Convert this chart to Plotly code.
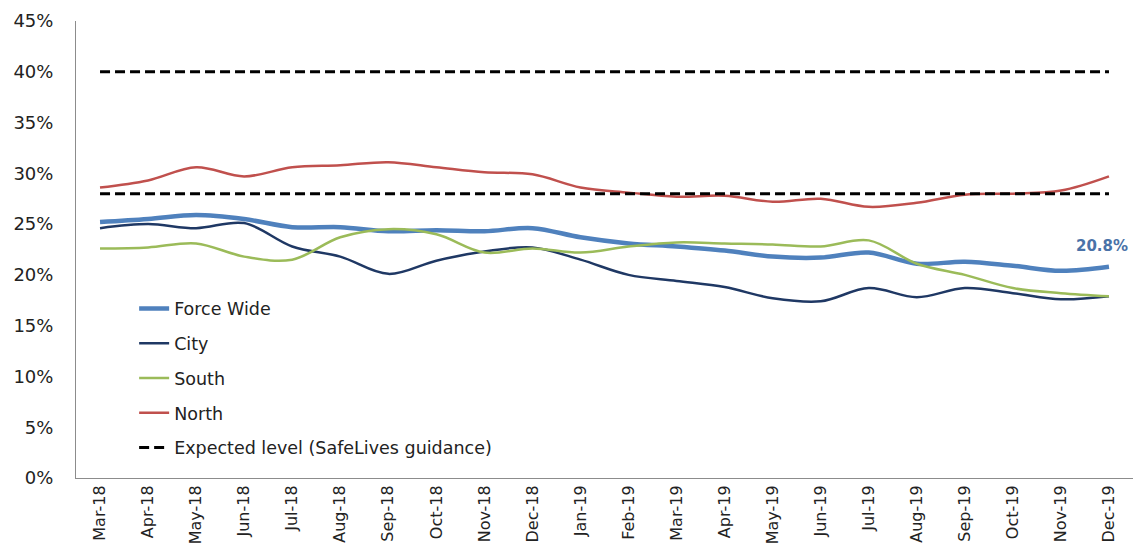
import plotly.graph_objects as go

months = ["Mar-18", "Apr-18", "May-18", "Jun-18", "Jul-18", "Aug-18", "Sep-18", "Oct-18",
          "Nov-18", "Dec-18", "Jan-19", "Feb-19", "Mar-19", "Apr-19", "May-19", "Jun-19",
          "Jul-19", "Aug-19", "Sep-19", "Oct-19", "Nov-19", "Dec-19"]

force_wide = [25.2, 25.5, 25.9, 25.5, 24.7, 24.7, 24.3, 24.4, 24.3, 24.6, 23.7, 23.1,
              22.8, 22.4, 21.8, 21.7, 22.2, 21.1, 21.3, 20.9, 20.4, 20.8]
city = [24.6, 25.0, 24.6, 25.1, 22.8, 21.8, 20.1, 21.4, 22.3, 22.7, 21.5, 20.0,
        19.4, 18.8, 17.7, 17.4, 18.7, 17.8, 18.7, 18.2, 17.6, 17.9]
south = [22.6, 22.7, 23.1, 21.8, 21.5, 23.7, 24.5, 24.0, 22.2, 22.6, 22.2, 22.8,
         23.2, 23.1, 23.0, 22.8, 23.4, 21.1, 20.0, 18.7, 18.2, 17.9]
north = [28.6, 29.3, 30.6, 29.7, 30.6, 30.8, 31.1, 30.6, 30.1, 29.9, 28.6, 28.1,
         27.7, 27.8, 27.2, 27.5, 26.7, 27.1, 27.9, 28.0, 28.3, 29.7]
expected_upper = [40.0] * len(months)
expected_lower = [28.0] * len(months)

y_ticks = [0, 5, 10, 15, 20, 25, 30, 35, 40, 45]
y_tick_labels = [f"{v}%" for v in y_ticks]

FONT = "'DejaVu Sans', 'Open Sans', sans-serif"

fig = go.Figure()

series = [
    ("Force Wide", force_wide, "#4F81BD", 4.5),
    ("City", city, "#1F3864", 2.5),
    ("South", south, "#9BBB59", 2.5),
    ("North", north, "#C0504D", 2.5),
]
for i, (name, vals, color, w) in enumerate(series):
    fig.add_trace(go.Scatter(
        x=months, y=vals, name=name, mode="lines",
        line=dict(color=color, width=w, shape="spline", smoothing=1.0),
        legendgroup=f"g{i}", hoverinfo="skip",
    ))

fig.add_trace(go.Scatter(
    x=months, y=expected_upper, name="Expected level (SafeLives guidance)", mode="lines",
    line=dict(color="black", width=3, dash="10px,5px"),
    legendgroup="exp", hoverinfo="skip",
))
fig.add_trace(go.Scatter(
    x=months, y=expected_lower, name="Expected level (SafeLives guidance)", mode="lines",
    line=dict(color="black", width=3, dash="10px,5px"),
    legendgroup="exp", showlegend=False, hoverinfo="skip",
))

fig.add_annotation(
    x=months[-1], y=force_wide[-1], text=f"<b>{force_wide[-1]:.1f}%</b>",
    showarrow=False, yshift=21, xshift=-7,
    font=dict(family=FONT, size=15, color="#4A72A8"),
)

fig.update_layout(
    width=1134, height=552,
    margin=dict(l=76, r=1, t=21, b=74),
    paper_bgcolor="white", plot_bgcolor="white",
    font=dict(family=FONT, color="#222222"),
    showlegend=True,
    legend=dict(
        x=0.055, y=0.41, xanchor="left", yanchor="top",
        bgcolor="rgba(0,0,0,0)", borderwidth=0,
        font=dict(family=FONT, size=17.5, color="#222222"),
        traceorder="grouped", tracegroupgap=9,
    ),
    xaxis=dict(
        type="category", range=[-0.5, len(months) - 0.5],
        showgrid=False, zeroline=False, automargin=False,
        showline=True, linecolor="#8C8C8C", linewidth=1,
        ticks="", tickangle=-90,
        tickfont=dict(family=FONT, size=16, color="#222222"),
    ),
    yaxis=dict(
        range=[0, 45], tickvals=y_ticks, ticktext=y_tick_labels,
        showgrid=False, zeroline=False, automargin=False,
        showline=True, linecolor="#8C8C8C", linewidth=1,
        ticks="", ticklabelstandoff=18,
        tickfont=dict(family=FONT, size=18, color="#222222"),
    ),
)

fig.write_html(
    "out.html",
    config={"displayModeBar": False},
    post_script="document.body.style.margin='0';",
)
